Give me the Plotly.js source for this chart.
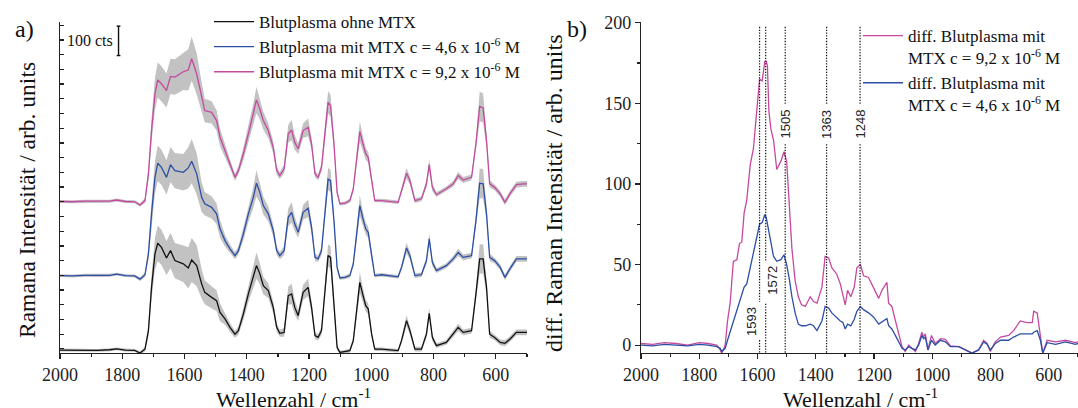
<!DOCTYPE html>
<html><head><meta charset="utf-8">
<script src="https://cdn.plot.ly/plotly-3.0.1.min.js"></script>
<style>html,body{margin:0;padding:0;background:#fff}</style>
</head><body><div id="chart" style="width:1078px;height:408px"></div>
<script>
// ---- panel a) : Raman spectra (counts), wavenumber grid ----
const wnA = [
 2000,1960,1920,1880,1840,1818,1790,1760,1743,1727,
 1716,1706,1695,1686,1674,1658,1645,1631,1604,1588,
 1577,1561,1545,1535,1513,1497,1486,1470,1454,1438,
 1427,1411,1395,1379,1369,1358,1347,1331,1315,1304,
 1294,1280,1267,1256,1246,1235,1219,1203,1192,1181,
 1171,1160,1149,1139,1131,1120,1110,1101,1085,1069,
 1058,1048,1037,1028,1018,1010,999,989,967,914,
 903,887,876,860,839,823,814,804,791,759,
 737,721,705,678,664,652,641,630,620,604,
 586,571,555,534,512,500];
const ohneMTX = [
 9,8,9,8,10,13,9,8,-1,12,
 75,222,336,372,358,322,347,313,302,288,
 315,296,234,205,188,177,137,115,86,63,
 75,132,200,256,296,268,228,211,154,86,
 66,69,194,200,154,126,205,222,154,58,
 52,75,222,330,324,166,18,1,3,7,
 41,131,239,200,160,149,63,12,12,7,
 41,109,75,12,12,63,134,52,24,35,
 63,86,69,75,200,319,319,222,63,52,
 35,32,46,69,69,69];
const mtx46 = [
 262,261,263,262,263,267,262,261,250,265,
 336,472,596,644,630,596,639,619,613,628,
 651,608,528,506,494,472,421,381,353,330,
 347,404,472,528,576,545,500,472,415,347,
 330,347,460,477,438,409,477,491,426,324,
 319,347,483,590,585,449,290,254,256,262,
 302,392,500,460,421,409,324,262,265,258,
 290,356,330,262,265,313,387,307,279,296,
 319,341,324,330,449,576,574,472,324,313,
 290,256,285,319,319,319];
const mtx92 = [
 514,513,515,514,515,519,514,513,502,517,
 608,755,880,927,914,891,939,937,955,961,
 999,948,868,823,817,789,732,687,642,596,
 619,676,744,812,859,828,789,755,698,619,
 602,625,744,757,715,693,755,766,710,608,
 596,630,744,851,840,710,545,506,508,517,
 557,653,752,715,676,664,585,517,517,511,
 551,610,585,517,523,574,639,562,537,557,
 574,602,587,596,710,837,832,721,574,562,
 540,511,540,571,574,574];
const stdA = [
 5,5,5,5,5,5,5,5,6,8,
 20,40,55,60,60,58,60,60,62,70,
 75,70,50,40,38,35,30,20,15,12,
 14,22,28,35,45,35,30,25,20,14,
 12,15,30,35,25,18,25,30,20,12,
 10,15,25,38,38,20,10,6,6,7,
 10,20,35,25,20,18,12,6,6,6,
 10,18,14,8,8,12,20,12,8,8,
 10,12,10,10,20,50,50,25,12,10,
 10,10,10,10,10,10];

// ---- panel b) : difference spectra ----
const wnB = [
 2000,1960,1920,1880,1840,1800,1770,1740,1728,1723,
 1711,1703,1694,1683,1671,1662,1654,1646,1637,1625,
 1614,1603,1593,1584,1575,1570,1566,1561,1554,1545,
 1534,1520,1509,1500,1490,1482,1471,1460,1449,1436,
 1419,1408,1396,1379,1368,1356,1345,1328,1316,1307,
 1299,1291,1280,1268,1259,1247,1236,1219,1202,1184,
 1173,1156,1150,1139,1121,1104,1093,1081,1070,1058,
 1047,1036,1030,1024,1015,1003,990,972,955,938,
 909,887,864,841,824,812,801,784,766,738,
 721,698,675,657,652,640,629,621,606,577,
 543,509,500];
const diff92 = [
 1,0.5,1.5,1,0,1.5,1,0,-3,-5,
 0,15,26,52,53,63,64,82,90,112,
 122,147,165,164,176,176,173,145,134,127,
 109,114,120,114,85,60,40,30,25,24,
 30,27,26,36,55,54,48,44,38,32,
 25,34,30,36,48,50,43,42,36,29,
 34,39,26,24,11,-1,-4,0,-2,-4,
 1,8,5,7,-3,6,1,4,3.5,-0.5,
 -1,-3,-5,-3,3,1,-4,2,5,6,
 9,15,14,14,21,20,7,-5,3,2,
 3,1.5,2];
const diff46 = [
 0,-0.5,0.5,0,-0.5,0.5,0,-1,-2,-4,
 -2,3,8,14,22,26,31,36,38,48,
 58,66,75,76,81,79,75,70,62,55,
 52,53,56,50,40,30,20,13,12,12,
 13,12,9,15,24,23,20,17,15,14,
 10,13,12,16,21,24,22,20,17.5,13,
 14.5,16.5,12,10,4,-2,-3,-1,-2,-3,
 0,6,4,5,-3,3,0,3,2,-1,
 -1,-3,-5,-3,2,0.5,-3,1,3,3,
 5,7,7,7,8,9,3,-5,1.5,0.5,
 2,0.5,1];

const peakLines = [1593, 1572, 1505, 1363, 1248];
const peakLabels = ['1593', '1572', '1505', '1363', '1248'];
const xTickVals = [2000, 1800, 1600, 1400, 1200, 1000, 800, 600];
const yTickValsB = [0, 50, 100, 150, 200];

const namesA = ['Blutplasma ohne MTX',
  'Blutplasma mit MTX c = 4,6 x 10<sup>-6</sup> M',
  'Blutplasma mit MTX c = 9,2 x 10<sup>-6</sup> M'];
const namesB = ['diff. Blutplasma mit<br>MTX c = 9,2 x 10<sup>-6</sup> M',
  'diff. Blutplasma mit<br>MTX c = 4,6 x 10<sup>-6</sup> M'];

// ---- styling ----
const BLACK = '#111111', BLUE = '#2c4fa6', MAG = '#c4499f', GREY = '#c2c2c2';
const SERIF = '"Liberation Serif", serif';
const SANS = '"Liberation Sans", sans-serif';

function band(x, y, s) {
  const up = y.map((v, i) => v + s[i]);
  const lo = y.map((v, i) => v - s[i]).reverse();
  return {x: x.concat(x.slice().reverse()), y: up.concat(lo), type: 'scatter', mode: 'lines',
    fill: 'toself', fillcolor: GREY, line: {width: 0}, showlegend: false, hoverinfo: 'skip',
    xaxis: 'x', yaxis: 'y'};
}
function spec(x, y, color, name, xa, ya, leg) {
  return {x: x, y: y, type: 'scatter', mode: 'lines', name: name,
    line: {color: color, width: 1.3}, xaxis: xa, yaxis: ya, legend: leg, showlegend: true};
}

const traces = [
  band(wnA, ohneMTX, stdA), band(wnA, mtx46, stdA), band(wnA, mtx92, stdA),
  spec(wnA, ohneMTX, BLACK, namesA[0], 'x', 'y', 'legend'),
  spec(wnA, mtx46, BLUE, namesA[1], 'x', 'y', 'legend'),
  spec(wnA, mtx92, MAG, namesA[2], 'x', 'y', 'legend'),
  spec(wnB, diff92, MAG, namesB[0], 'x2', 'y2', 'legend2'),
  spec(wnB, diff46, BLUE, namesB[1], 'x2', 'y2', 'legend2')
];

const W = 1078, H = 408;
const yDom = [(H - 353) / H, (H - 22) / H];
const axisCommon = {showgrid: false, zeroline: false, showline: true, linecolor: '#222', linewidth: 1.2,
  tickcolor: '#222', tickwidth: 1.2, tickfont: {family: SERIF, size: 18, color: '#222'}};

const gapTop = [26.7, 52.5, 149.4, 149.4, 149.4];
const gapBot = [3.1, 25.7, 124.7, 124.7, 124.7];
const labX = [1620, 1547, 1505, 1363, 1248];
const labY = [14.8, 40.5, 137, 137, 137];
const shapes = [];
const dot = {color: '#111', width: 1.2, dash: '1.3px,1.5px'};
peakLines.forEach((p, i) => {
  shapes.push({type: 'line', xref: 'x2', yref: 'y2', x0: p, x1: p, y0: 197.5, y1: gapTop[i], line: dot, layer: 'above'});
  shapes.push({type: 'line', xref: 'x2', yref: 'y2', x0: p, x1: p, y0: gapBot[i], y1: -4.9, line: dot, layer: 'above'});
});
// 100 cts scale bar
shapes.push({type: 'line', xref: 'x', yref: 'y', x0: 1812, x1: 1812, y0: 1010, y1: 1110, line: {color: '#111', width: 1.4}});
shapes.push({type: 'line', xref: 'x', yref: 'y', x0: 1818, x1: 1806, y0: 1010, y1: 1010, line: {color: '#111', width: 1.4}});
shapes.push({type: 'line', xref: 'x', yref: 'y', x0: 1818, x1: 1806, y0: 1110, y1: 1110, line: {color: '#111', width: 1.4}});

function ann(text, x, y, size, extra) {
  return Object.assign({text: text, x: x / W, y: 1 - y / H, xref: 'paper', yref: 'paper', xanchor: 'center', yanchor: 'middle',
    showarrow: false, font: {family: SERIF, size: size, color: '#111'}}, extra || {});
}
const annotations = [
  ann('a)', 24, 29, 24),
  ann('b)', 577, 29, 24),
  ann('100 cts', 90, 41, 16),
  ann('Ramana Intensität / arb. units', 27, 200, 23.5, {textangle: -90}),
  ann('diff. Raman Intensität / arb. units', 554, 193, 24, {textangle: -90}),
  ann('Wellenzahl / cm<sup>-1</sup>', 293, 398, 22),
  ann('Wellenzahl / cm<sup>-1</sup>', 860, 398, 22)
];
peakLabels.forEach((t, i) => {
  annotations.push({text: t, x: labX[i], y: labY[i], xref: 'x2', yref: 'y2', textangle: -90, showarrow: false,
    xanchor: 'center', yanchor: 'middle', font: {family: SANS, size: 13, color: '#222'}});
});

const layout = {
  width: W, height: H, margin: {l: 0, r: 0, t: 0, b: 0}, paper_bgcolor: '#fff', plot_bgcolor: 'rgba(0,0,0,0)',
  showlegend: true,
  xaxis: Object.assign({}, axisCommon, {domain: [60 / W, 527 / W], range: [2000, 500], tickvals: xTickVals,
    ticks: 'outside', ticklen: 5, minor: {dtick: 100, tick0: 0, ticks: 'outside', ticklen: 3, tickcolor: '#222'}, anchor: 'y'}),
  yaxis: Object.assign({}, axisCommon, {domain: yDom, range: [-1, 1124], dtick: 50, tick0: 13, ticks: 'inside', ticklen: 4,
    showticklabels: false, anchor: 'x'}),
  xaxis2: Object.assign({}, axisCommon, {domain: [641 / W, 1], range: [2000, 500], tickvals: xTickVals,
    ticks: 'outside', ticklen: 5, minor: {dtick: 100, tick0: 0, ticks: 'outside', ticklen: 3, tickcolor: '#222'}, anchor: 'y2'}),
  yaxis2: Object.assign({}, axisCommon, {domain: yDom, range: [-4.9, 200.5], tickvals: yTickValsB, ticks: 'outside', ticklen: 5,
    minor: {dtick: 25, tick0: 0, ticks: 'outside', ticklen: 3, tickcolor: '#222'}, anchor: 'x2'}),
  legend: {x: 209 / W, y: 1 - 4 / H, xanchor: 'left', yanchor: 'top', bgcolor: 'rgba(0,0,0,0)', borderwidth: 0,
    font: {family: SERIF, size: 17, color: '#111'}, itemwidth: 40, tracegroupgap: 0, traceorder: 'normal'},
  legend2: {x: 858 / W, y: 1 - 18 / H, xanchor: 'left', yanchor: 'top', bgcolor: 'rgba(0,0,0,0)', borderwidth: 0,
    font: {family: SERIF, size: 17, color: '#111'}, itemwidth: 40, tracegroupgap: 0, traceorder: 'normal', valign: 'top'},
  shapes: shapes, annotations: annotations
};

Plotly.newPlot('chart', traces, layout, {staticPlot: true, displayModeBar: false});
</script></body></html>
